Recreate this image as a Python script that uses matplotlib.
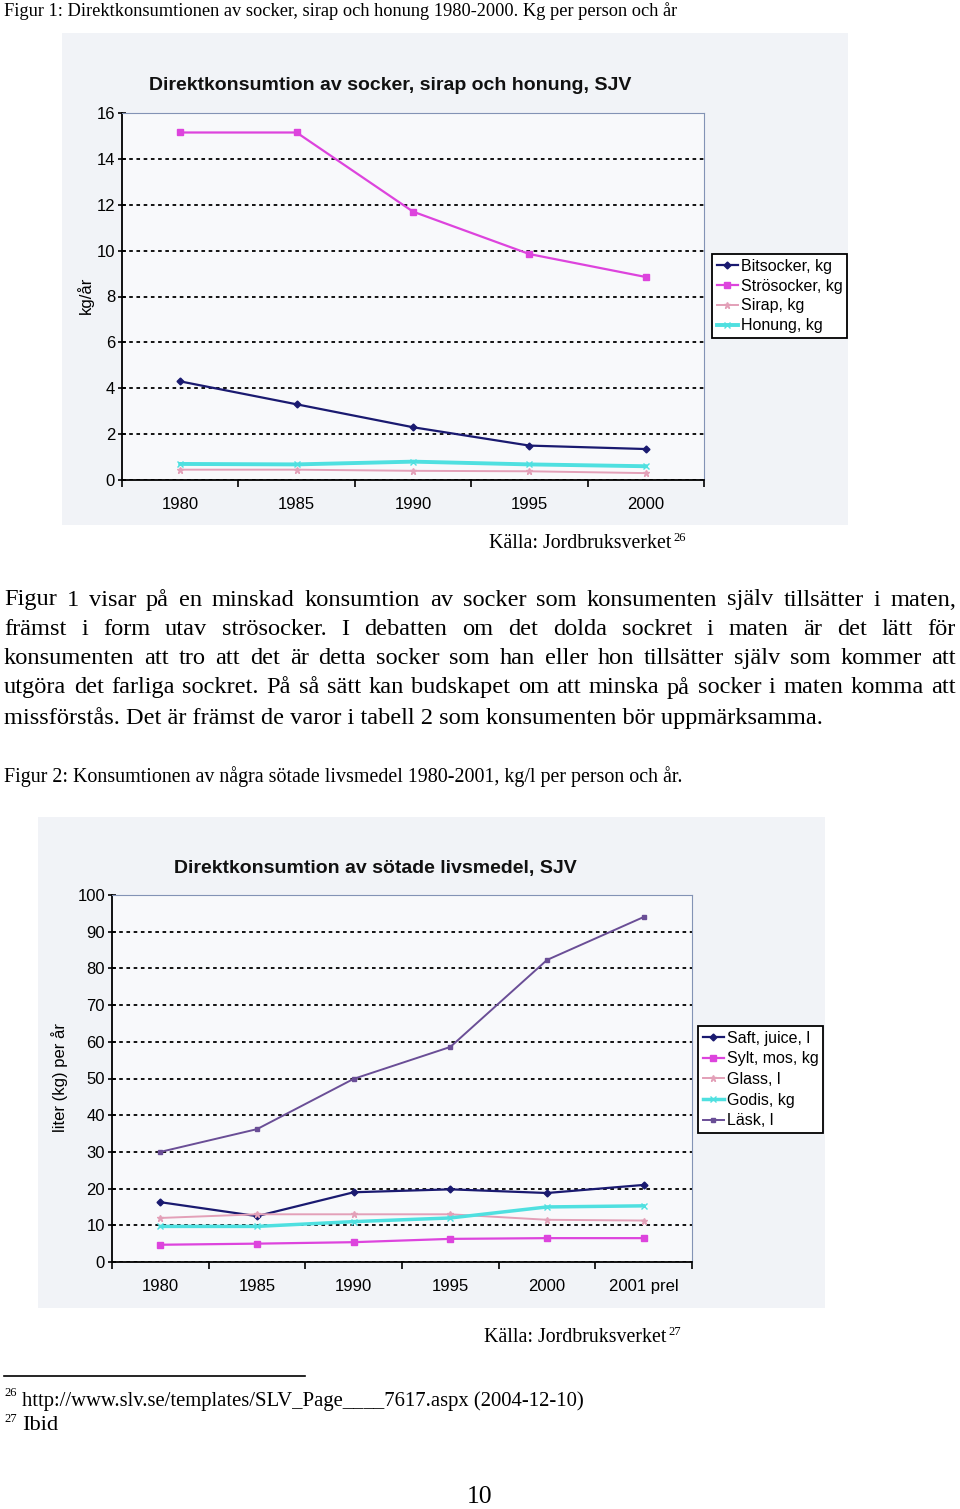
import matplotlib
matplotlib.use("Agg")
import matplotlib.pyplot as plt
from matplotlib.ticker import FixedLocator, NullFormatter

# ---------------- data ----------------
years1 = ["1980", "1985", "1990", "1995", "2000"]
bitsocker = [4.3, 3.3, 2.3, 1.5, 1.35]
strosocker = [15.15, 15.15, 11.7, 9.85, 8.85]
sirap = [0.45, 0.45, 0.4, 0.38, 0.3]
honung = [0.7, 0.68, 0.8, 0.68, 0.6]
yticks1 = [0, 2, 4, 6, 8, 10, 12, 14, 16]

years2 = ["1980", "1985", "1990", "1995", "2000", "2001 prel"]
saft = [16.3, 12.5, 19.0, 19.8, 18.8, 21.0]
sylt = [4.7, 5.0, 5.4, 6.3, 6.5, 6.5]
glass = [12.0, 13.0, 13.0, 13.0, 11.5, 11.3]
godis = [9.7, 9.7, 11.0, 12.0, 15.0, 15.3]
lask = [30.0, 36.2, 49.9, 58.6, 82.3, 94.0]
yticks2 = [0, 10, 20, 30, 40, 50, 60, 70, 80, 90, 100]

W, H = 960, 1509
fig = plt.figure(figsize=(W / 100, H / 100), dpi=100)
fig.patch.set_facecolor("white")
renderer = fig.canvas.get_renderer()

SANS = ["Liberation Sans", "DejaVu Sans"]
SERIF = ["Liberation Serif", "DejaVu Serif"]


def fx(px):
    return px / W


def fy(py):
    return 1 - py / H


def fit_text(x0, x1, y, s, size0=14, **kw):
    t = fig.text(fx(x0), fy(y), s, fontsize=size0, family=SERIF, va="center", ha="left", **kw)
    w = t.get_window_extent(renderer=renderer).width
    t.set_fontsize(size0 * (x1 - x0) / w)
    return t


def justify(x0, x1, y, line, size):
    words = line.split()
    ts = [fig.text(0, fy(y), w_, fontsize=size, family=SERIF, va="center", ha="left") for w_ in words]
    widths = [t.get_window_extent(renderer=renderer).width for t in ts]
    gap = ((x1 - x0) - sum(widths)) / max(len(words) - 1, 1)
    x = x0
    for t, w_ in zip(ts, widths):
        t.set_x(fx(x))
        x += w_ + gap


def chart(bg_rect, ax_rect, title, title_xy, ylabel, ylabel_xy, cats, series, yt, leg_xy, legsp):
    bg = fig.add_axes(bg_rect)
    bg.set_facecolor("#f1f3f7")
    for s in bg.spines.values():
        s.set_visible(False)
    bg.set_xticks([])
    bg.set_yticks([])
    ax = fig.add_axes(ax_rect)
    ax.set_facecolor("#f8f9fb")
    x = list(range(len(cats)))
    for vals, lab, col, mk, ms, lw in series:
        ax.plot(x, vals, color=col, marker=mk, markersize=ms, lw=lw, label=lab,
                markeredgecolor=col, markerfacecolor=col)
    ax.set_xlim(-0.5, len(cats) - 0.5)
    ax.set_ylim(yt[0], yt[-1])
    ax.set_yticks(yt)
    ax.set_yticklabels([str(v) for v in yt], fontsize=12, family=SANS)
    ax.xaxis.set_major_locator(FixedLocator([i - 0.5 for i in range(len(cats) + 1)]))
    ax.xaxis.set_major_formatter(NullFormatter())
    ax.set_xticks(x, minor=True)
    ax.set_xticklabels(cats, minor=True, fontsize=12, family=SANS)
    ax.tick_params(axis="x", which="minor", length=0, pad=12)
    ax.tick_params(axis="x", which="major", length=5, width=1.2, direction="out", color="black")
    ax.tick_params(axis="y", length=6, width=1.2, direction="inout", pad=2, color="black")
    ax.yaxis.grid(True, linestyle=(0, (2, 2)), color="black", lw=1.3)
    ax.set_axisbelow(True)
    ax.spines["left"].set_color("black")
    ax.spines["bottom"].set_color("black")
    ax.spines["left"].set_linewidth(1.3)
    ax.spines["bottom"].set_linewidth(1.3)
    ax.spines["top"].set_color("#8393b5")
    ax.spines["right"].set_color("#8393b5")
    fig.text(fx(title_xy[0]), fy(title_xy[1]), title, fontsize=14, fontweight="bold",
             family=SANS, ha="center", va="center", color="#111111")
    fig.text(fx(ylabel_xy[0]), fy(ylabel_xy[1]), ylabel, fontsize=12, family=SANS,
             rotation=90, ha="center", va="center")
    leg = ax.legend(loc="upper left", bbox_to_anchor=(fx(leg_xy[0]), fy(leg_xy[1])),
                    bbox_transform=fig.transFigure, borderaxespad=0, frameon=True,
                    fancybox=False, edgecolor="black", framealpha=1, facecolor="white",
                    prop={"family": SANS, "size": 11.5}, handlelength=1.3, handletextpad=0.2,
                    labelspacing=legsp, borderpad=0.3)
    leg.get_frame().set_linewidth(1.3)
    return ax


# ---------------- chart 1 ----------------
series1 = [
    (bitsocker, "Bitsocker, kg", "#1a1a70", "D", 3.5, 1.6),
    (strosocker, "Strösocker, kg", "#dd44dd", "s", 4, 1.6),
    (sirap, "Sirap, kg", "#e3a0b8", "*", 5, 1.4),
    (honung, "Honung, kg", "#4fe0e0", "x", 4, 2.8),
]
chart([fx(62), fy(525), fx(848) - fx(62), fy(33) - fy(525)],
      [fx(122), fy(480), fx(704) - fx(122), fy(113) - fy(480)],
      "Direktkonsumtion av socker, sirap och honung, SJV", (390, 85),
      "kg/år", (85, 295), years1, series1, yticks1, (712, 254), 0.3)

# ---------------- chart 2 ----------------
series2 = [
    (saft, "Saft, juice, l", "#1a1a70", "D", 3.5, 1.6),
    (sylt, "Sylt, mos, kg", "#dd44dd", "s", 4, 1.6),
    (glass, "Glass, l", "#e3a0b8", "*", 5, 1.4),
    (godis, "Godis, kg", "#4fe0e0", "x", 4, 2.5),
    (lask, "Läsk, l", "#6a4e96", "s", 3, 1.4),
]
chart([fx(38), fy(1308), fx(825) - fx(38), fy(817) - fy(1308)],
      [fx(112), fy(1262), fx(692) - fx(112), fy(895) - fy(1262)],
      "Direktkonsumtion av sötade livsmedel, SJV", (375, 868),
      "liter (kg) per år", (60, 1078), years2, series2, yticks2, (698, 1026), 0.35)

# ---------------- page text ----------------
fit_text(4, 681, 11, "Figur 1: Direktkonsumtionen av socker, sirap och honung 1980-2000. Kg per person och år")

t = fit_text(489, 672, 543, "Källa: Jordbruksverket")
fig.text(fx(673), fy(538), "26", fontsize=9, family=SERIF, va="center", ha="left")

body = [
    "Figur 1 visar på en minskad konsumtion av socker som konsumenten själv tillsätter i maten,",
    "främst i form utav strösocker. I debatten om det dolda sockret i maten är det lätt för",
    "konsumenten att tro att det är detta socker som han eller hon tillsätter själv som kommer att",
    "utgöra det farliga sockret. På så sätt kan budskapet om att minska på socker i maten komma att",
]
last = "missförstås. Det är främst de varor i tabell 2 som konsumenten bör uppmärksamma."
tl = fit_text(4, 828, 718, last)
bsize = tl.get_fontsize()
for i, line in enumerate(body):
    justify(4, 956, 600 + i * 29.3, line, bsize)

fit_text(4, 688, 777, "Figur 2: Konsumtionen av några sötade livsmedel 1980-2001, kg/l per person och år.")

fit_text(484, 667, 1337, "Källa: Jordbruksverket")
fig.text(fx(668), fy(1332), "27", fontsize=9, family=SERIF, va="center", ha="left")

fig.add_artist(plt.Line2D([fx(4), fx(305)], [fy(1376), fy(1376)], color="black", lw=1.2))
fig.text(fx(4), fy(1393), "26", fontsize=9, family=SERIF, va="center", ha="left")
fit_text(22, 587, 1401, "http://www.slv.se/templates/SLV_Page____7617.aspx (2004-12-10)")
fig.text(fx(4), fy(1419), "27", fontsize=9, family=SERIF, va="center", ha="left")
fig.text(fx(22), fy(1426), "Ibid", fontsize=bsize * 0.92, family=SERIF, va="center", ha="left")
fig.text(fx(480), fy(1497), "10", fontsize=bsize * 1.05, family=SERIF, va="center", ha="center")

fig.savefig("out.png", dpi=100)
